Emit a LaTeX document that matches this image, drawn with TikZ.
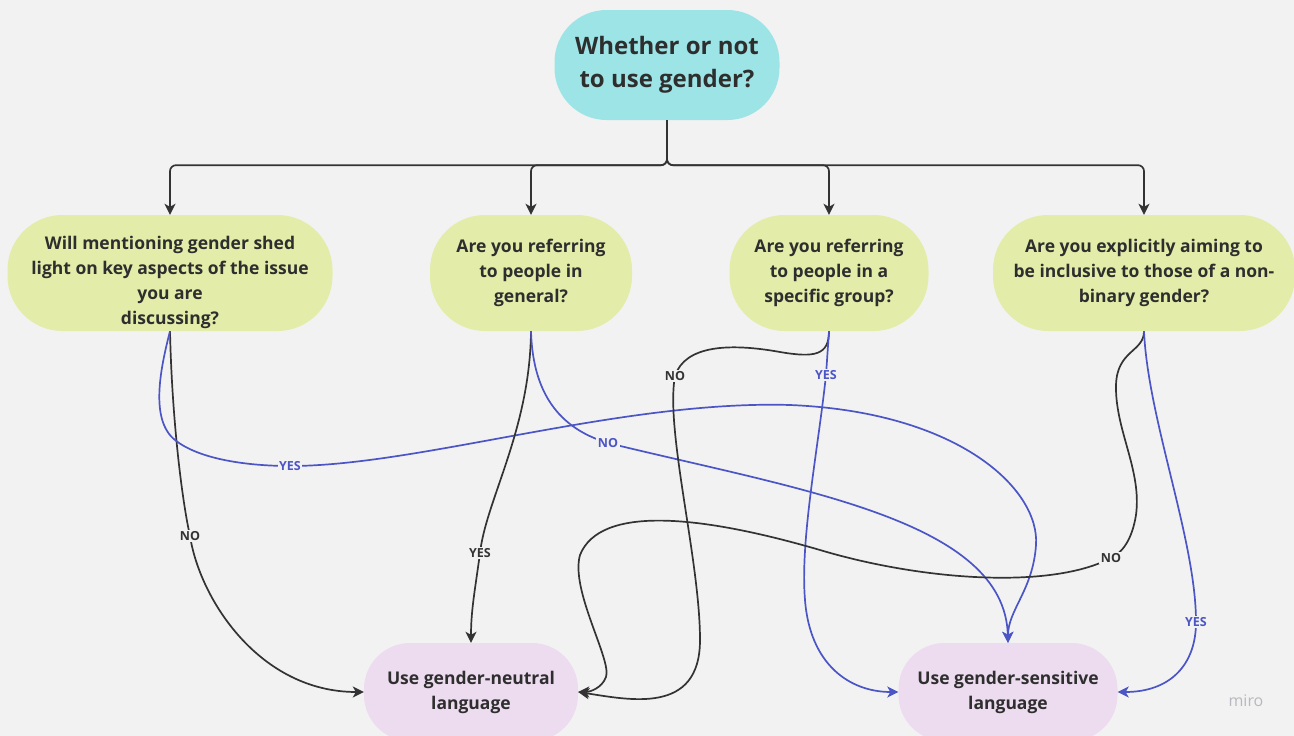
\documentclass[tikz,border=0pt]{standalone}
\usepackage{fontspec}
\setmainfont{Open Sans}
\usetikzlibrary{arrows.meta}
\definecolor{bg}{HTML}{F2F2F2}
\definecolor{qgreen}{HTML}{E3EDA9}
\definecolor{qcyan}{HTML}{9DE4E6}
\definecolor{qpink}{HTML}{EDDBEF}
\definecolor{dk}{HTML}{333333}
\definecolor{bl}{HTML}{4B55C6}
\definecolor{txt}{HTML}{2E2E2E}
\definecolor{wm}{HTML}{B8B8C0}
\begin{document}
\begin{tikzpicture}[x=1pt,y=-1pt,
  box/.style={rectangle, align=center, text=txt, inner sep=0pt,
    font=\bfseries\fontsize{17.5}{25}\selectfont},
  qbox/.style={box, fill=qgreen, rounded corners=55pt, minimum height=116pt},
  abox/.style={box, fill=qpink, rounded corners=46pt, minimum height=98pt},
  dkline/.style={draw=dk, line width=1.7pt},
  blline/.style={draw=bl, line width=1.7pt},
  arr/.style={-{Stealth[length=11pt,width=11pt,inset=3pt]}},
  lbl/.style={fill=bg, inner sep=1.5pt, font=\bfseries\fontsize{12.5}{13}\selectfont},
  dklbl/.style={lbl, text=dk},
  bllbl/.style={lbl, text=bl}]
\fill[bg] (0,0) rectangle (1294,736);
\useasboundingbox (0,0) rectangle (1294,736);

% nodes
\node[box, fill=qcyan, rounded corners=52pt, minimum width=225pt, minimum height=110pt,
  font=\bfseries\fontsize{24}{33}\selectfont] (top) at (667,65) {Whether or not\\to use gender?};
\node[qbox, minimum width=325pt] (b1) at (170,273) {};
\node[box] (b1t) at (170,282) {Will mentioning gender shed\\light on key aspects of the issue\\you are\\discussing?};
\node[qbox, minimum width=202pt] (b2) at (531,273) {Are you referring\\to people in\\general?};
\node[qbox, minimum width=199pt] (b3) at (829,273) {Are you referring\\to people in a\\specific group?};
\node[qbox, minimum width=302pt] (b4) at (1144,273) {Are you explicitly aiming to\\be inclusive to those of a non-\\binary gender?};
\node[abox, minimum width=214pt] (neu) at (471,692) {Use gender-neutral\\language};
\node[abox, minimum width=219pt] (sen) at (1008,692) {Use gender-sensitive\\language};
\node[text=wm, font=\fontsize{16}{16}\selectfont] (miro) at (1246,701) {miro};

% top tree
\foreach \b in {b1,b2,b3,b4}
  \draw[dkline, arr, rounded corners=6pt] (top.south) -- ++(0,45) -| (\b.north);

% box1 NO
\draw[dkline, arr] (b1.south) .. controls (172,420) and (182,500) .. (190,536) node[dklbl]{NO}
  .. controls (200,600) and (260,692) .. (neu.west);
% box1 YES
\draw[blline, arr] (b1.south) .. controls (160,370) and (150,420) .. (175,440)
  .. controls (200,460) and (250,466) .. (290,466) node[bllbl]{YES}
  .. controls (420,466) and (620,400) .. (790,405)
  .. controls (960,412) and (1040,490) .. (1036,545)
  .. controls (1033,590) and (1008,610) .. (sen.north);
% box2 YES
\draw[dkline, arr] (b2.south) .. controls (530,430) and (486,500) .. (480,553) node[dklbl]{YES}
  .. controls (475,590) and (471,610) .. (neu.north);
% box2 NO
\draw[blline, arr] (b2.south) .. controls (533,400) and (565,430) .. (608,443) node[bllbl]{NO}
  .. controls (800,490) and (1005,520) .. (sen.north);
% box3 NO
\draw[dkline, arr] (b3.south) .. controls (829,355) and (815,358) .. (780,352)
  .. controls (730,343) and (685,345) .. (675,376) node[dklbl]{NO}
  .. controls (665,430) and (700,560) .. (700,640)
  .. controls (700,715) and (630,700) .. (neu.east);
% box3 YES
\draw[blline, arr] (b3.south) -- (826,375) node[bllbl]{YES}
  .. controls (818,450) and (800,540) .. (805,600)
  .. controls (810,665) and (850,692) .. (sen.west);
% box4 NO
\draw[dkline, arr] (b4.south) .. controls (1144,352) and (1117,350) .. (1116,385)
  .. controls (1115,430) and (1142,470) .. (1136,515)
  .. controls (1132,540) and (1122,553) .. (1111,558) node[dklbl]{NO}
  .. controls (1050,590) and (920,580) .. (820,550)
  .. controls (700,515) and (600,505) .. (580,555)
  .. controls (570,590) and (612,660) .. (606,677)
  .. controls (602,688) and (590,692) .. (neu.east);
% box4 YES
\draw[blline, arr] (b4.south) .. controls (1148,420) and (1196,540) .. (1196,622) node[bllbl]{YES}
  .. controls (1196,665) and (1170,692) .. (sen.east);
\end{tikzpicture}
\end{document}
